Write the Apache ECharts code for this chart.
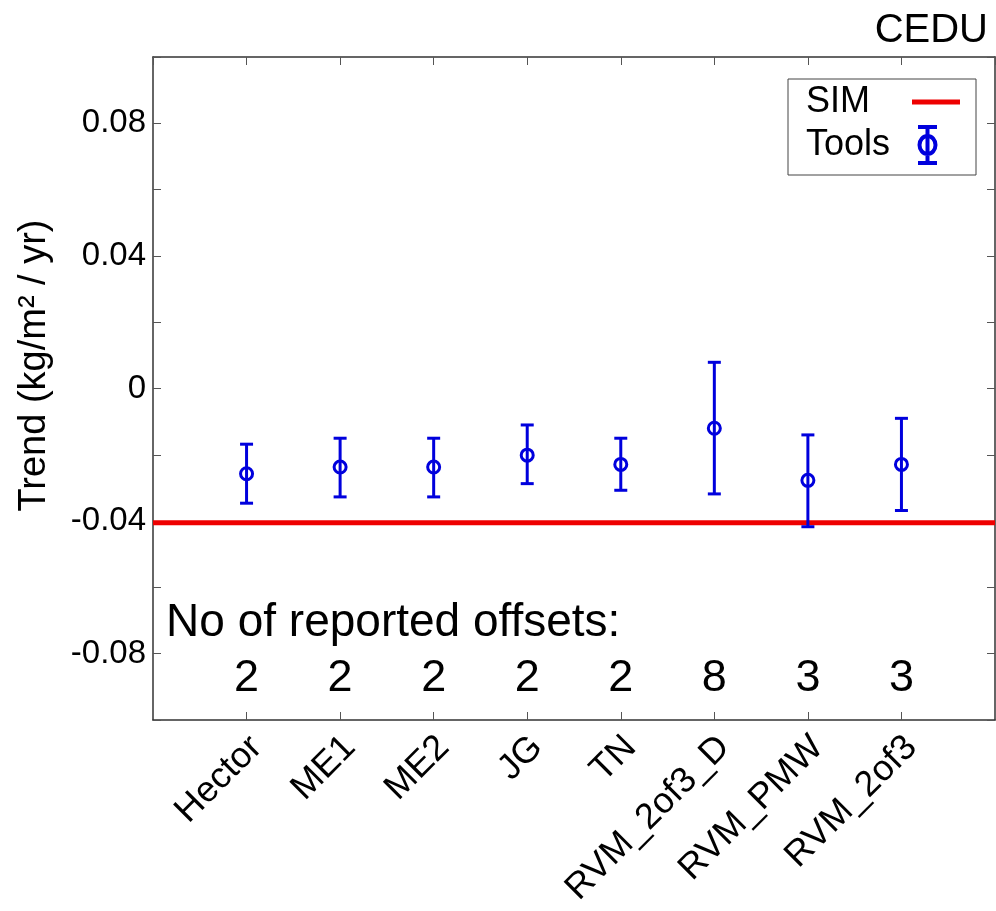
<!DOCTYPE html>
<html>
<head>
<meta charset="utf-8">
<script src="https://cdn.jsdelivr.net/npm/echarts@6/dist/echarts.min.js"></script>
<style>
  html, body { margin: 0; padding: 0; background: #fff; }
  #chart { width: 996px; height: 911px; }
</style>
</head>
<body>
<div id="chart"></div>
<script>
// ---- data ----
const categories = ['Hector', 'ME1', 'ME2', 'JG', 'TN', 'RVM_2of3_D', 'RVM_PMW', 'RVM_2of3'];
const trend   = [-0.0257, -0.0237, -0.0237, -0.0201, -0.0229, -0.0120, -0.0277, -0.0229];
const errLow  = [-0.0346, -0.0327, -0.0327, -0.0287, -0.0307, -0.0318, -0.0417, -0.0368];
const errHigh = [-0.0168, -0.0150, -0.0150, -0.0110, -0.0150,  0.0079, -0.0140, -0.0090];
const offsets = [2, 2, 2, 2, 2, 8, 3, 3];
const simTrend = -0.0405;
const yTickValues = [0.08, 0.04, 0, -0.04, -0.08];
const yTickLabels = ['0.08', '0.04', '0', '-0.04', '-0.08'];
const titleText = 'CEDU';
const offsetsTitle = 'No of reported offsets:';

// ---- annotation placement (data units) ----
const OFFSETS_TITLE_POS = [0.14, -0.0707];
const OFFSETS_Y = -0.0876;

const FONT = 'Liberation Sans, Arial, Helvetica, sans-serif';
const BLUE = '#0000dd';
const RED = '#ee0000';
const AXIS_COLOR = '#333';

const toolsData = categories.map((c, i) => [i + 1, errLow[i], errHigh[i], trend[i]]);
const offsetsData = offsets.map((n, i) => [i + 1, OFFSETS_Y, n]);

const chart = echarts.init(document.getElementById('chart'), null, { renderer: 'canvas' });

function axisCommon() {
  return {
    axisLine: { show: true, onZero: false, lineStyle: { color: AXIS_COLOR, width: 1.5 } },
    axisTick: { show: true, inside: true, length: 8, lineStyle: { color: '#555', width: 1 } },
    splitLine: { show: false }
  };
}

function yLabel(v) {
  const r = Math.round(v * 100) / 100;
  for (let k = 0; k < yTickValues.length; k++) {
    if (Math.abs(yTickValues[k] - r) < 1e-9) return yTickLabels[k];
  }
  return '';
}

const option = {
  animation: false,
  backgroundColor: '#fff',
  title: {
    text: titleText,
    right: 3,
    top: 6,
    textStyle: { fontFamily: FONT, fontSize: 40, fontWeight: 'normal', color: '#000' }
  },
  grid: { left: 153, right: 1, top: 57, bottom: 191, containLabel: false },
  legend: {
    left: 788,
    top: 79,
    orient: 'vertical',
    align: 'right',
    itemWidth: 50,
    itemHeight: 40,
    itemGap: 1,
    padding: [3, 13, 8, 18],
    borderColor: '#444',
    borderWidth: 1,
    backgroundColor: '#fff',
    selectedMode: false,
    formatter: name => '{t|' + name + '}',
    textStyle: {
      fontFamily: FONT, fontSize: 36, color: '#000',
      rich: { t: { width: 100, align: 'left', fontFamily: FONT, fontSize: 36, color: '#000' } }
    },
    data: [
      {
        name: 'SIM',
        icon: 'path://M0,0M50,40M1,17.5L49,17.5L49,22.5L1,22.5Z',
        itemStyle: { color: RED, borderWidth: 0 }
      },
      {
        name: 'Tools',
        icon: 'path://M0,0M50,40M7,2L26,2M16.5,2L16.5,38M7,38L26,38M24.5,20A8,9,0,1,1,8.5,20A8,9,0,1,1,24.5,20',
        itemStyle: { color: 'rgba(0,0,0,0)', borderColor: BLUE, borderWidth: 4 }
      }
    ]
  },
  xAxis: [
    Object.assign(axisCommon(), {
      type: 'value', position: 'bottom', min: 0, max: 9, interval: 1,
      axisLabel: {
        show: true, rotate: 45, margin: 12,
        fontFamily: FONT, fontSize: 36, color: '#000',
        formatter: v => {
          const name = categories[Math.round(v) - 1];
          return name ? '{c|' + name + '}' : '';
        },
        rich: { c: { fontFamily: FONT, fontSize: 36, color: '#000', padding: [28, 0, 0, 0] } },
        showMinLabel: false, showMaxLabel: false
      }
    }),
    Object.assign(axisCommon(), {
      type: 'value', position: 'top', min: 0, max: 9, interval: 1,
      axisLabel: { show: false }
    })
  ],
  yAxis: [
    Object.assign(axisCommon(), {
      type: 'value', position: 'left', min: -0.1, max: 0.1, interval: 0.02,
      name: 'Trend (kg/m² / yr)',
      nameLocation: 'middle',
      nameRotate: 90,
      nameGap: 99,
      nameTextStyle: { fontFamily: FONT, fontSize: 38, color: '#000', padding: [0, 0, 0, 46] },
      axisLabel: {
        show: true, margin: 7, fontFamily: FONT, fontSize: 33, color: '#000',
        formatter: yLabel
      }
    }),
    Object.assign(axisCommon(), {
      type: 'value', position: 'right', min: -0.1, max: 0.1, interval: 0.02,
      axisLabel: { show: false }
    })
  ],
  series: [
    {
      name: 'SIM',
      type: 'line',
      xAxisIndex: 0, yAxisIndex: 0,
      data: [[0, simTrend], [9, simTrend]],
      symbol: 'none',
      lineStyle: { color: RED, width: 5 },
      itemStyle: { color: RED },
      silent: true,
      z: 3
    },
    {
      name: 'Tools',
      type: 'custom',
      xAxisIndex: 0, yAxisIndex: 0,
      data: toolsData,
      encode: { x: 0, y: [1, 2, 3] },
      itemStyle: { color: BLUE },
      silent: true,
      z: 4,
      renderItem: function (params, api) {
        const x = api.value(0);
        const lo = api.coord([x, api.value(1)]);
        const hi = api.coord([x, api.value(2)]);
        const c = api.coord([x, api.value(3)]);
        const hw = 6.5;
        const st = { stroke: BLUE, lineWidth: 3, fill: null };
        return {
          type: 'group',
          children: [
            { type: 'line', shape: { x1: hi[0], y1: hi[1], x2: lo[0], y2: lo[1] }, style: st },
            { type: 'line', shape: { x1: hi[0] - hw, y1: hi[1], x2: hi[0] + hw, y2: hi[1] }, style: st },
            { type: 'line', shape: { x1: lo[0] - hw, y1: lo[1], x2: lo[0] + hw, y2: lo[1] }, style: st },
            { type: 'circle', shape: { cx: c[0], cy: c[1], r: 6 }, style: { stroke: BLUE, lineWidth: 3, fill: 'rgba(0,0,0,0)' } }
          ]
        };
      }
    },
    {
      name: 'offsetsTitle',
      type: 'scatter',
      xAxisIndex: 0, yAxisIndex: 0,
      data: [OFFSETS_TITLE_POS],
      symbolSize: 0,
      silent: true,
      itemStyle: { opacity: 1 },
      label: {
        show: true, position: 'inside', align: 'left', verticalAlign: 'middle',
        formatter: offsetsTitle,
        fontFamily: FONT, fontSize: 46, color: '#000'
      },
      z: 5
    },
    {
      name: 'offsets',
      type: 'scatter',
      xAxisIndex: 0, yAxisIndex: 0,
      data: offsetsData,
      symbolSize: 0,
      silent: true,
      itemStyle: { opacity: 1 },
      label: {
        show: true, position: 'inside', align: 'center', verticalAlign: 'middle',
        formatter: p => String(p.data[2]),
        fontFamily: FONT, fontSize: 45, color: '#000'
      },
      z: 5
    }
  ]
};

chart.setOption(option);
</script>
</body>
</html>
